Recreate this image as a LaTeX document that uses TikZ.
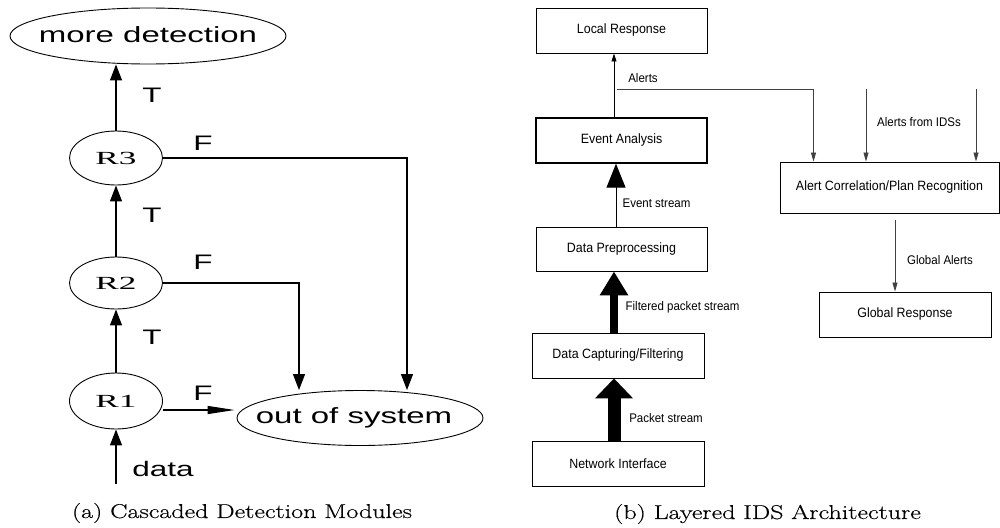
\documentclass[tikz,border=0pt]{standalone}
\usepackage{fontspec}
\usetikzlibrary{shapes.geometric,arrows.meta,calc}
\newfontfamily\lsans[FakeStretch=1.5]{Liberation Sans}
\newfontfamily\lserif[FakeStretch=1.9]{Liberation Serif}
\newfontfamily\nsans[FakeStretch=0.92]{Liberation Sans}
\newfontfamily\capfont[FakeStretch=1.3,FakeBold=0.4]{Latin Modern Roman}
\newcommand{\zw}[1]{\makebox[0pt]{#1}}
\begin{document}
\begin{tikzpicture}[x=1pt,y=-1pt,
  ell/.style={draw,ellipse,inner sep=0pt,line width=0.9pt},
  rnode/.style={ell,minimum width=93pt,minimum height=54pt,font=\lserif\fontsize{18.5}{20}\selectfont},
  lbl/.style={font=\lsans\fontsize{21}{24}\selectfont,inner sep=0pt},
  larr/.style={line width=1.2pt,-{Triangle[length=16pt,width=12pt]}},
  harr/.style={line width=1.2pt,-{Triangle[length=27pt,width=8pt]}},
  box/.style={draw,rectangle,inner sep=0pt,line width=0.9pt,font=\nsans\fontsize{13.5}{15}\selectfont},
  elbl/.style={font=\nsans\fontsize{12.5}{14}\selectfont,inner sep=0pt},
  sarr/.style={line width=0.8pt,draw=black!75,-{Triangle[length=9pt,width=5pt]}},
  captxt/.style={font=\capfont\fontsize{20}{24}\selectfont,inner sep=0pt}]
\useasboundingbox (0,0) rectangle (1000,527);
% ---------- (a)
\node[ell,minimum width=276pt,minimum height=56pt,font=\lsans\fontsize{22}{24}\selectfont] (more) at (148,36) {\zw{\raisebox{3pt}{more detection}}};
\node[rnode] (R3) at (116,158) {R3};
\node[rnode,minimum height=52pt] (R2) at (116,283) {R2};
\node[rnode,minimum height=56pt] (R1) at (116,401) {R1};
\node[ell,minimum width=246pt,minimum height=55pt,font=\lsans\fontsize{22}{24}\selectfont] (out) at (360,418) {\zw{\hspace*{-12pt}\raisebox{-4pt}{out of system}}};
\coordinate (d) at (116,484);
\draw[larr] (R3.north) -- (R3.north |- more.south);
\draw[larr] (R2.north) -- (R3.south);
\draw[larr] (R1.north) -- (R2.south);
\draw[larr] (d) -- (R1.south);
\draw[larr] (R3.east) -| ([xshift=47pt]out.north);
\draw[larr] (R2.east) -| ([xshift=-61pt]out.north);
\draw[harr] ([yshift=-9pt]R1.east) -- ([yshift=-9pt,xshift=-2pt]R1.east -| out.west);
\node[lbl] (t3) at (152,95) {T};
\node[lbl] (t2) at (152,215) {T};
\node[lbl] (t1) at (152,337) {T};
\node[lbl] (f3) at (203,143) {F};
\node[lbl] (f2) at (203,262) {F};
\node[lbl] (f1) at (203,393) {F};
\node[lbl] (dl) at (163,469) {data};
\node[captxt] (ca) at (242,513) {(a) Cascaded Detection Modules};
% ---------- (b)
\node[box,minimum width=171pt,minimum height=45pt] (LR) at (621.5,30.5) {Local Response};
\node[box,minimum width=171pt,minimum height=45pt,line width=1.4pt] (EA) at (621.5,140.5) {Event Analysis};
\node[box,minimum width=171pt,minimum height=44pt] (DP) at (621.5,249) {Data Preprocessing};
\node[box,minimum width=172pt,minimum height=45pt] (DC) at (618,355.5) {Data Capturing/Filtering};
\node[box,minimum width=172pt,minimum height=45pt] (NI) at (618,463.5) {Network Interface};
\node[box,minimum width=219pt,minimum height=51pt] (AC) at (889.5,187.5) {Alert Correlation/Plan Recognition};
\node[box,minimum width=172pt,minimum height=45pt] (GR) at (905,314.5) {Global Response};
\coordinate (ab) at (617,89);
\coordinate (i1) at (866,89);
\coordinate (i2) at (976,89);
\coordinate (ga) at (895,220);
\draw[line width=0.9pt,-{Triangle[length=8pt,width=5pt]}] ([xshift=-7.5pt]EA.north) -- ([xshift=-7.5pt]LR.south);
\draw[sarr] (ab) -| ([xshift=-76pt]AC.north);
\draw[sarr] (i1) -- (i1 |- AC.north);
\draw[sarr] (i2) -- (i2 |- AC.north);
\draw[sarr] (ga) -- (ga |- GR.north);
\draw[line width=1pt,-{Triangle[length=24pt,width=19pt]}] ([xshift=-5.5pt]DP.north) -- ([xshift=-5.5pt]EA.south);
\draw[line width=8pt,-{Triangle[length=24pt,width=27pt]}] ([xshift=-4pt]DC.north) -- ([xshift=-4pt]DC.north |- DP.south);
\draw[line width=13pt,-{Triangle[length=20pt,width=37pt]}] ([xshift=-4pt]NI.north) -- ([xshift=-4pt]DC.south);
\node[elbl] (la) at (643,78) {Alerts};
\node[elbl] (li) at (919,122) {Alerts from IDSs};
\node[elbl] (le) at (656.5,203) {Event stream};
\node[elbl] (lf) at (682.5,307) {Filtered packet stream};
\node[elbl] (lp) at (666,418) {Packet stream};
\node[elbl] (lg) at (940,260) {Global Alerts};
\node[captxt] (cb) at (767.5,514) {(b) Layered IDS Architecture};
\end{tikzpicture}
\end{document}
